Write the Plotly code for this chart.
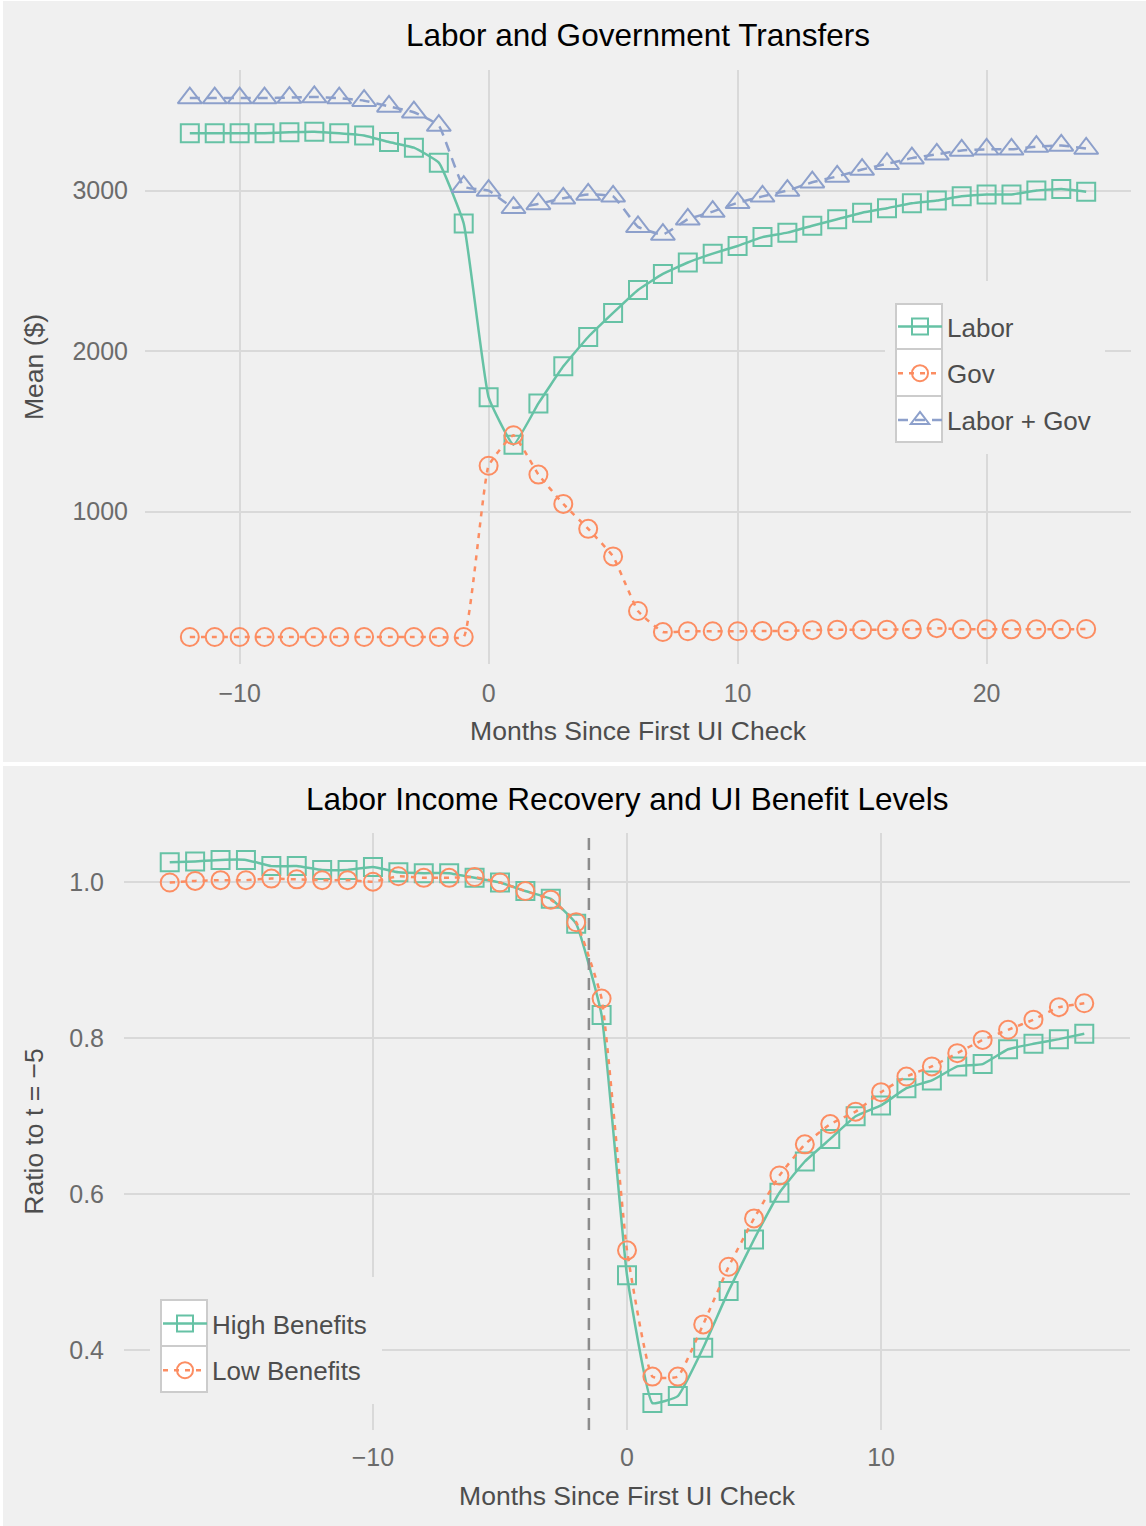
import plotly.graph_objects as go

W, H = 1146, 1526

# ---------------- data: top panel ----------------
months_top = list(range(-12, 25))
labor = [3357, 3357, 3357, 3357, 3364, 3367, 3357, 3343, 3302, 3267, 3174, 2795,
         1712, 1417, 1674, 1905, 2088, 2238, 2381, 2481, 2552, 2607, 2655, 2710,
         2738, 2781, 2821, 2862, 2890, 2921, 2938, 2964, 2976, 2976, 3000, 3010, 2993]
gov = [219, 219, 219, 219, 219, 219, 219, 219, 219, 219, 219, 219,
       1286, 1476, 1231, 1048, 893, 721, 381, 250, 255, 255, 255, 257,
       257, 262, 265, 265, 265, 267, 274, 267, 267, 267, 267, 267, 269]
labor_gov = [3576, 3576, 3576, 3576, 3579, 3583, 3576, 3560, 3524, 3488, 3405, 3024,
             3000, 2893, 2917, 2952, 2976, 2964, 2774, 2726, 2821, 2869, 2924, 2964,
             3000, 3052, 3088, 3131, 3167, 3202, 3226, 3250, 3257, 3257, 3274, 3281, 3262]
top_xticks = [-10, 0, 10, 20]
top_yticks = [1000, 2000, 3000]

# ---------------- data: bottom panel ----------------
months_bot = list(range(-18, 19))
high_ben = [1.026, 1.027, 1.029, 1.029, 1.021, 1.021, 1.016, 1.016, 1.020, 1.013,
            1.012, 1.012, 1.006, 1.000, 0.989, 0.979, 0.947, 0.830, 0.496, 0.332,
            0.341, 0.403, 0.476, 0.542, 0.602, 0.642, 0.671, 0.700, 0.714, 0.736,
            0.746, 0.764, 0.767, 0.786, 0.793, 0.799, 0.806]
low_ben = [1.000, 1.002, 1.003, 1.003, 1.005, 1.004, 1.003, 1.003, 1.001, 1.008,
           1.006, 1.006, 1.007, 1.000, 0.989, 0.978, 0.949, 0.851, 0.528, 0.366,
           0.366, 0.433, 0.507, 0.569, 0.624, 0.664, 0.690, 0.706, 0.731, 0.751,
           0.764, 0.781, 0.798, 0.811, 0.824, 0.840, 0.845]
bot_xticks = [-10, 0, 10]
bot_yticks = [0.4, 0.6, 0.8, 1.0]
vline_x = -1.5

# ---------------- style ----------------
GREEN, ORANGE, BLUE = "#66c2a5", "#fc8d62", "#8da0cb"
BG = "#f0f0f0"
GRID = "#d9d9d9"
FONT = "Liberation Sans, Arial, sans-serif"
TICK_C = "#6b6b6b"
AX_C = "#4d4d4d"
SMOOTH = 0.35


def px(x):
    return x / W


def py(y):
    return 1 - y / H


fig = go.Figure()

common = dict(mode="lines+markers", line_shape="spline")
fig.add_trace(go.Scatter(x=months_top, y=labor, name="Labor", legendgroup="a",
                         line=dict(color=GREEN, width=2.5, smoothing=SMOOTH),
                         marker=dict(symbol="square-open", size=18, color=GREEN, line=dict(width=2)),
                         xaxis="x", yaxis="y", legend="legend", **common))
fig.add_trace(go.Scatter(x=months_top, y=gov, name="Gov", legendgroup="b",
                         line=dict(color=ORANGE, width=2.5, dash="5px,6px", smoothing=SMOOTH),
                         marker=dict(symbol="circle-open", size=18, color=ORANGE, line=dict(width=2)),
                         xaxis="x", yaxis="y", legend="legend", **common))
fig.add_trace(go.Scatter(x=months_top, y=labor_gov, name="Labor + Gov", legendgroup="c",
                         line=dict(color=BLUE, width=2.5, dash="10px,7px", smoothing=SMOOTH),
                         marker=dict(symbol="triangle-up-open", size=21, color=BLUE, line=dict(width=2)),
                         xaxis="x", yaxis="y", legend="legend", **common))

fig.add_trace(go.Scatter(x=months_bot, y=high_ben, name="High Benefits", legendgroup="d",
                         line=dict(color=GREEN, width=2.5, smoothing=SMOOTH),
                         marker=dict(symbol="square-open", size=18, color=GREEN, line=dict(width=2)),
                         xaxis="x2", yaxis="y2", legend="legend2", **common))
fig.add_trace(go.Scatter(x=months_bot, y=low_ben, name="Low Benefits", legendgroup="e",
                         line=dict(color=ORANGE, width=2.5, dash="5px,6px", smoothing=SMOOTH),
                         marker=dict(symbol="circle-open", size=18, color=ORANGE, line=dict(width=2)),
                         xaxis="x2", yaxis="y2", legend="legend2", **common))

axis_common = dict(showgrid=True, gridcolor=GRID, gridwidth=1.5, zeroline=False,
                   showline=False, ticks="outside", tickcolor="rgba(0,0,0,0)",
                   tickfont=dict(family=FONT, size=25, color=TICK_C))
title_font = dict(family=FONT, size=26.5, color=AX_C)

fig.update_layout(
    width=W, height=H,
    margin=dict(l=0, r=0, t=0, b=0),
    paper_bgcolor="white", plot_bgcolor=BG,
    font=dict(family=FONT, color=AX_C),
    xaxis=dict(domain=[px(145), px(1131)], anchor="y", range=[-13.8, 25.8],
               tickvals=top_xticks, ticklen=7,
               title=dict(text="Months Since First UI Check", font=title_font, standoff=15),
               **axis_common),
    yaxis=dict(domain=[py(664), py(70)], anchor="x", range=[51, 3751],
               tickvals=top_yticks, ticklen=11,
               title=dict(text="Mean ($)", font=title_font, standoff=21),
               **axis_common),
    xaxis2=dict(domain=[px(124), px(1130)], anchor="y2", range=[-19.8, 19.8],
                tickvals=bot_xticks, ticklen=5,
                title=dict(text="Months Since First UI Check", font=title_font, standoff=16),
                **axis_common),
    yaxis2=dict(domain=[py(1430), py(833)], anchor="x2", range=[0.2975, 1.0635],
                tickvals=bot_yticks, tickformat=".1f", ticklen=14,
                title=dict(text="Ratio to t = \u22125", font=title_font, standoff=17),
                **axis_common),
    legend=dict(x=px(893), y=py(303), xanchor="left", yanchor="top",
                bgcolor="rgba(0,0,0,0)", font=dict(family=FONT, size=26, color=AX_C),
                tracegroupgap=10, itemwidth=44),
    legend2=dict(x=px(158), y=py(1300), xanchor="left", yanchor="top",
                 bgcolor="rgba(0,0,0,0)", font=dict(family=FONT, size=26, color=AX_C),
                 tracegroupgap=10, itemwidth=44),
    showlegend=True,
)

shapes = []
# panel backgrounds
shapes.append(dict(type="rect", xref="paper", yref="paper", layer="below",
                   x0=px(3), x1=1, y0=py(762), y1=py(1), fillcolor=BG, line=dict(width=0)))
shapes.append(dict(type="rect", xref="paper", yref="paper", layer="below",
                   x0=px(3), x1=1, y0=0, y1=py(766), fillcolor=BG, line=dict(width=0)))
# legend backgrounds
shapes.append(dict(type="rect", xref="paper", yref="paper", layer="above",
                   x0=px(885), x1=px(1105), y0=py(454), y1=py(281), fillcolor=BG, line=dict(width=0)))
shapes.append(dict(type="rect", xref="paper", yref="paper", layer="above",
                   x0=px(150), x1=px(382), y0=py(1404), y1=py(1277), fillcolor=BG, line=dict(width=0)))
# legend key boxes
for (y0, y1) in [(304, 349), (349, 396), (396, 442)]:
    shapes.append(dict(type="rect", xref="paper", yref="paper", layer="above",
                       x0=px(896), x1=px(942), y0=py(y1), y1=py(y0), fillcolor="white",
                       line=dict(color="#cccccc", width=2)))
for (y0, y1) in [(1300, 1346), (1346, 1392)]:
    shapes.append(dict(type="rect", xref="paper", yref="paper", layer="above",
                       x0=px(161), x1=px(207), y0=py(y1), y1=py(y0), fillcolor="white",
                       line=dict(color="#cccccc", width=2)))
# vertical dashed reference line
shapes.append(dict(type="line", xref="x2", yref="y2 domain", x0=vline_x, x1=vline_x, y0=0, y1=1,
                   layer="above", line=dict(color="#8c8c8c", width=2.5, dash="12px,8px")))
fig.update_layout(shapes=shapes)

fig.add_annotation(text="Labor and Government Transfers", xref="paper", yref="paper",
                   x=px(638), y=py(35), xanchor="center", yanchor="middle", showarrow=False,
                   font=dict(family=FONT, size=31.5, color="black"))
fig.add_annotation(text="Labor Income Recovery and UI Benefit Levels", xref="paper", yref="paper",
                   x=px(627), y=py(799), xanchor="center", yanchor="middle", showarrow=False,
                   font=dict(family=FONT, size=31.5, color="black"))

fig.write_html("out.html", config={"displayModeBar": False},
               post_script="document.body.style.margin='0';")
